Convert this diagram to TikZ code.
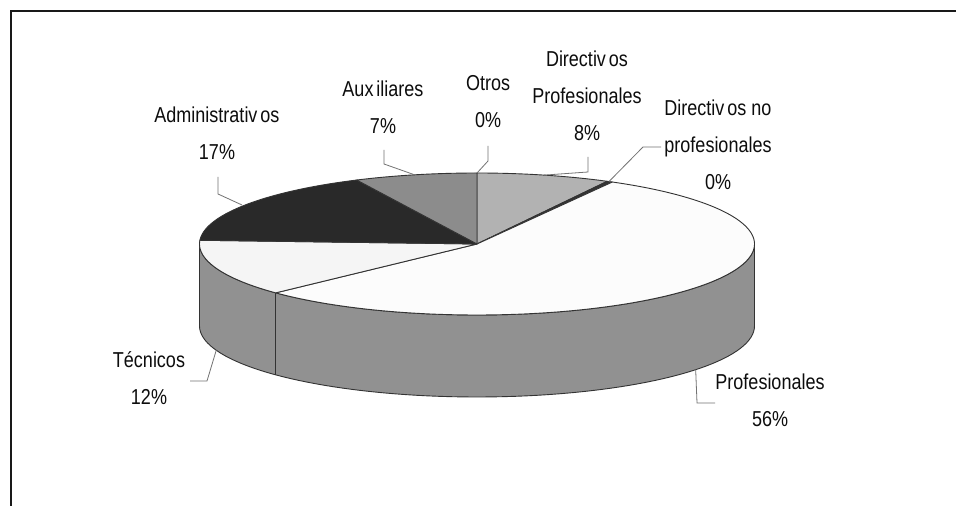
\documentclass[tikz,border=0pt]{standalone}
\usepackage{fontspec}
\usepackage{graphicx}
\setmainfont{Liberation Sans}
\newcommand{\stretchtxt}[1]{\scalebox{1}[1.2]{#1}}
\begin{document}
\begin{tikzpicture}[x=0.5pt,y=-0.5pt,
  declare function={px(\t)=477+277.5*sin(\t); py(\t)=244-71*cos(\t);},
  edge/.style={draw=black!80,line width=0.45pt,line join=round},
  leader/.style={draw=black!55,line width=0.4pt},
  lbl/.style={align=center,inner sep=0pt,text=black!95,font=\fontsize{9}{18.5}\selectfont},
  frame/.style={draw=black!90,line width=1.1pt}]
\useasboundingbox (0,0) rectangle (956,506);
\clip (0,0) rectangle (956,506);
\fill[white] (0,0) rectangle (956,506);
\draw[frame] (11,11) rectangle (990,540);
% side of the pie
\filldraw[edge,fill=black!43] plot[domain=90:270,samples=80] ({px(\x)},{py(\x)})
  -- plot[domain=270:90,samples=80] ({px(\x)},{py(\x)+82}) -- cycle;
\draw[edge] ({px(226.5)},{py(226.5)}) -- ({px(226.5)},{py(226.5)+82});
% top slices
\coordinate (c) at (477,244);
\filldraw[edge,fill=black!30] (c) -- plot[domain=0:28,samples=30] ({px(\x)},{py(\x)}) -- cycle;
\filldraw[edge,fill=black!80] (c) -- plot[domain=28:29.2,samples=4] ({px(\x)},{py(\x)}) -- cycle;
\filldraw[edge,fill=black!1] (c) -- plot[domain=29.2:226.5,samples=120] ({px(\x)},{py(\x)}) -- cycle;
\filldraw[edge,fill=black!4] (c) -- plot[domain=226.5:273,samples=40] ({px(\x)},{py(\x)}) -- cycle;
\filldraw[edge,fill=black!84] (c) -- plot[domain=273:334.3,samples=40] ({px(\x)},{py(\x)}) -- cycle;
\filldraw[edge,fill=black!45] (c) -- plot[domain=334.3:360,samples=30] ({px(\x)},{py(\x)}) -- cycle;
% labels
\node[lbl] (adm) at (217,133.5) {\stretchtxt{Administrativ\kern1.5pt os}\\\stretchtxt{17\%}};
\node[lbl] (aux) at (383,107) {\stretchtxt{Aux\kern1.5pt iliares}\\\stretchtxt{7\%}};
\node[lbl] (otr) at (488,101.5) {\stretchtxt{Otros}\\\stretchtxt{0\%}};
\node[lbl] (dp) at (587,95.5) {\stretchtxt{Directiv\kern1.5pt os}\\\stretchtxt{Profesionales}\\\stretchtxt{8\%}};
\node[lbl] (dnp) at (718,145) {\stretchtxt{Directiv\kern1.5pt os no}\\\stretchtxt{profesionales}\\\stretchtxt{0\%}};
\node[lbl] (tec) at (149,378) {\stretchtxt{T\'ecnicos}\\\stretchtxt{12\%}};
\node[lbl] (pro) at (770,400) {\stretchtxt{Profesionales}\\\stretchtxt{56\%}};
% leader anchor points
\coordinate (admA) at (218,177); \coordinate (admB) at (218,194); \coordinate (admP) at (242,205);
\coordinate (auxA) at (384,150); \coordinate (auxB) at (384,164); \coordinate (auxP) at ({px(347)},{py(347)});
\coordinate (otrA) at (488,146); \coordinate (otrB) at (488,161); \coordinate (otrP) at ({px(0)},{py(0)});
\coordinate (dpA) at (588,157); \coordinate (dpB) at (588,172); \coordinate (dpP) at ({px(14)},{py(14)});
\coordinate (dnpA) at (661,147); \coordinate (dnpB) at (643,147); \coordinate (dnpP) at ({px(28.4)},{py(28.4)});
\coordinate (tecA) at (190,381); \coordinate (tecB) at (207,381); \coordinate (tecP) at ({px(250)},{py(250)+82});
\coordinate (proA) at (715,403); \coordinate (proB) at (697,403); \coordinate (proP) at ({px(128)},{py(128)+82});
\draw[leader] (admA) -- (admB) -- (admP);
\draw[leader] (auxA) -- (auxB) -- (auxP);
\draw[leader] (otrA) -- (otrB) -- (otrP);
\draw[leader] (dpA) -- (dpB) -- (dpP);
\draw[leader] (dnpA) -- (dnpB) -- (dnpP);
\draw[leader] (tecA) -- (tecB) -- (tecP);
\draw[leader] (proA) -- (proB) -- (proP);
\end{tikzpicture}
\end{document}
